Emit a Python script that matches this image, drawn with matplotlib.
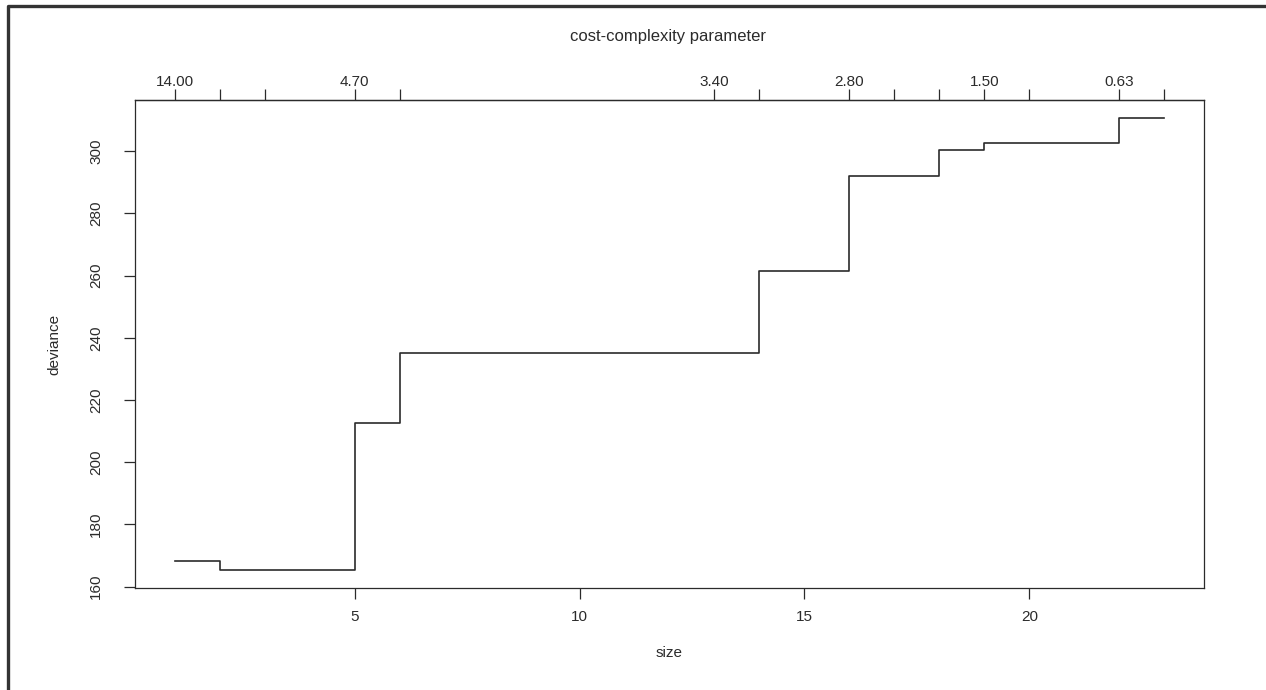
import matplotlib
matplotlib.use("Agg")
import matplotlib.pyplot as plt
from matplotlib.lines import Line2D

# tree sizes along the pruning sequence and their cross-validated deviance
sizes = [1, 2, 3, 5, 6, 13, 14, 16, 17, 18, 19, 20, 22, 23]
deviance = [168.3, 165.5, 165.4, 212.5, 235.2, 235.0, 261.3, 291.9,
            292.0, 300.4, 302.6, 302.6, 310.6, 310.6]
# cost-complexity values printed above the matching sizes (blank = dropped)
cc_labels = ["14.00", "", "", "4.70", "", "3.40", "", "2.80", "",
             "", "1.50", "", "0.63", ""]

x_ticks = [5, 10, 15, 20]
y_ticks = [160, 180, 200, 220, 240, 260, 280, 300]

INK = "#2b2b2b"
W, H = 1266, 690

plt.rcParams["font.family"] = ["Liberation Sans", "DejaVu Sans"]
plt.rcParams["font.size"] = 11

fig = plt.figure(figsize=(W / 100, H / 100), dpi=100)
fig.patch.set_facecolor("white")

ax = fig.add_axes([135 / W, 1 - 588 / H, (1204 - 135) / W, (588 - 100) / H])
ax.step(sizes, deviance, where="post", color=INK, lw=1.2)
ax.margins(x=0.04, y=0.04)

ax.set_xticks(x_ticks)
ax.set_yticks(y_ticks)
ax.set_yticklabels([str(v) for v in y_ticks], rotation=90, va="center")
ax.tick_params(axis="both", direction="out", length=8, width=0.9,
               colors=INK, labelsize=11)
ax.tick_params(axis="x", pad=8)
ax.tick_params(axis="y", pad=15)
for sp in ax.spines.values():
    sp.set_color(INK)
    sp.set_linewidth(0.9)

ax.set_xlabel("size", color=INK, fontsize=11, labelpad=16)
ax.set_ylabel("deviance", color=INK, fontsize=11, labelpad=20)

top = ax.secondary_xaxis("top")
top.set_xticks(sizes)
top.set_xticklabels(cc_labels)
top.tick_params(direction="out", length=8, width=0.9, colors=INK,
                labelsize=11, pad=0)
top.spines["top"].set_color(INK)
top.spines["top"].set_linewidth(0.9)

fig.text(668 / W, 1 - 37 / H, "cost-complexity parameter", ha="center",
         va="center", color=INK, fontsize=12)

# dark frame along the top and left edges
fig.add_artist(Line2D([8 / W, 8 / W, 1.0], [0.0, 1 - 6 / H, 1 - 6 / H],
                      transform=fig.transFigure, color="#333333", lw=2.4))

fig.savefig("out.png", dpi=100)
